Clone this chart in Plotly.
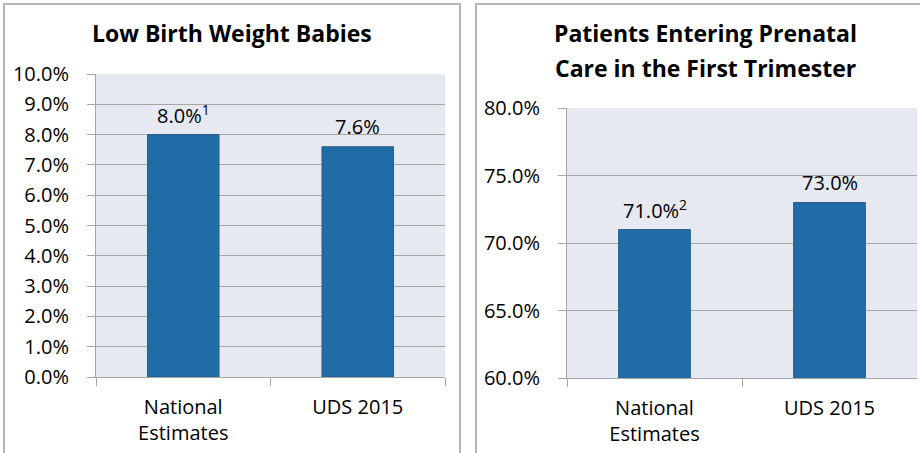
import plotly.graph_objects as go
from plotly.subplots import make_subplots

categories = ["National<br>Estimates", "UDS 2015"]
low_birth = [8.0, 7.6]
low_birth_labels = ["8.0%<sup>1</sup>", "7.6%"]
prenatal = [71.0, 73.0]
prenatal_labels = ["71.0%<sup>2</sup>", "73.0%"]

left_ticks = [0, 1, 2, 3, 4, 5, 6, 7, 8, 9, 10]
right_ticks = [60, 65, 70, 75, 80]

W, H = 920, 453
FONT = "Open Sans"
BAR = "#1f6ca6"
BAR_EDGE = "#2b5f88"
PLOT_BG = "#e6e9f1"
GRID = "#a6a6a6"


def px_x(v):
    return v / W


def px_y(v):
    return 1 - v / H


fig = make_subplots(rows=1, cols=2)

for col, vals, labels in [(1, low_birth, low_birth_labels), (2, prenatal, prenatal_labels)]:
    fig.add_trace(go.Bar(x=categories, y=vals,
                         marker=dict(color=BAR, line=dict(color=BAR_EDGE, width=1)),
                         width=0.41), row=1, col=col)
    axn = "" if col == 1 else str(col)
    # value labels above the bars
    for c, v, t in zip(categories, vals, labels):
        fig.add_annotation(x=c, y=v, xref="x" + axn, yref="y" + axn, text=t,
                           showarrow=False, yanchor="middle", yshift=20,
                           font=dict(family=FONT, size=20, color="#000"))

axis_common = dict(showline=True, linecolor=GRID, linewidth=1,
                   ticks="outside", tickcolor=GRID, ticklen=8,
                   tickfont=dict(family=FONT, size=20, color="#000"),
                   fixedrange=True, automargin=False)

fig.update_xaxes(domain=[px_x(96), px_x(445)], tickson="boundaries",
                 showgrid=False, ticklabelstandoff=12, row=1, col=1, **axis_common)
fig.update_xaxes(domain=[px_x(567), px_x(917)], tickson="boundaries",
                 showgrid=False, ticklabelstandoff=12, row=1, col=2, **axis_common)

fig.update_yaxes(domain=[px_y(377), px_y(74)], range=[0, 10],
                 tickvals=left_ticks, ticktext=[f"{v:.1f}%" for v in left_ticks],
                 showgrid=True, gridcolor=GRID, gridwidth=1, zeroline=False,
                 ticklabelstandoff=14, row=1, col=1, **axis_common)
fig.update_yaxes(domain=[px_y(378), px_y(108)], range=[60, 80],
                 tickvals=right_ticks, ticktext=[f"{v:.1f}%" for v in right_ticks],
                 showgrid=True, gridcolor=GRID, gridwidth=1, zeroline=False,
                 ticklabelstandoff=14, row=1, col=2, **axis_common)

# panel frames
for x0, x1 in [(4, 460), (476, 930)]:
    fig.add_shape(type="rect", xref="paper", yref="paper",
                  x0=px_x(x0), x1=px_x(x1), y0=px_y(470), y1=px_y(4),
                  line=dict(color="#b4b4b4", width=2), fillcolor="rgba(0,0,0,0)",
                  layer="below")

title_font = dict(family=FONT, size=23, color="#000")
for txt, x, y in [("Low Birth Weight Babies", 232, 33),
                  ("Patients Entering Prenatal", 705, 33),
                  ("Care in the First Trimester", 705, 68)]:
    fig.add_annotation(text="<b>" + txt + "</b>", xref="paper", yref="paper",
                       x=px_x(x), y=px_y(y), xanchor="center", yanchor="middle",
                       showarrow=False, font=title_font)

fig.update_layout(width=W, height=H, margin=dict(l=0, r=0, t=0, b=0, autoexpand=False),
                  paper_bgcolor="white", plot_bgcolor=PLOT_BG,
                  showlegend=False, bargap=0.59)

fig.write_html("out.html", config={"displayModeBar": False},
               post_script="document.body.style.margin='0';")
